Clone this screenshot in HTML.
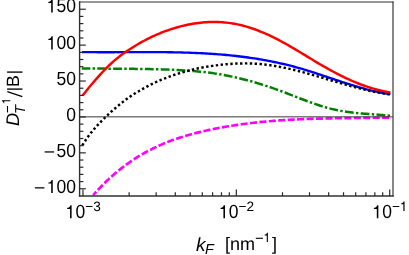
<!DOCTYPE html>
<html><head><meta charset="utf-8"><style>
html,body{margin:0;padding:0;background:#fff;}
svg{display:block;font-family:"Liberation Sans",sans-serif;text-rendering:geometricPrecision;will-change:transform;}
</style></head><body>
<svg width="409" height="255" viewBox="0 0 409 255">
<rect width="409" height="255" fill="#fff"/>
<g fill="none" stroke-width="2.45" stroke-linejoin="round">
<path d="M81.8 68.50 L83.8 68.51 L85.8 68.53 L87.8 68.54 L89.8 68.55 L91.8 68.56 L93.8 68.57 L95.8 68.58 L97.8 68.59 L99.8 68.60 L101.8 68.61 L103.8 68.62 L105.8 68.63 L107.9 68.64 L109.9 68.65 L111.9 68.66 L113.9 68.67 L115.9 68.68 L117.9 68.69 L119.9 68.70 L121.9 68.71 L123.9 68.73 L125.9 68.75 L127.9 68.77 L129.9 68.80 L131.9 68.83 L133.9 68.86 L135.9 68.89 L137.9 68.92 L139.9 68.95 L141.9 68.98 L143.9 69.00 L145.9 69.03 L147.9 69.06 L149.9 69.10 L151.9 69.14 L153.9 69.18 L155.9 69.23 L157.9 69.29 L160.0 69.35 L162.0 69.41 L164.0 69.48 L166.0 69.55 L168.0 69.62 L170.0 69.70 L172.0 69.78 L174.0 69.86 L176.0 69.95 L178.0 70.05 L180.0 70.15 L182.0 70.26 L184.0 70.38 L186.0 70.51 L188.0 70.65 L190.0 70.79 L192.0 70.94 L194.0 71.11 L196.0 71.28 L198.0 71.46 L200.0 71.65 L202.0 71.86 L204.0 72.08 L206.0 72.31 L208.0 72.56 L210.0 72.82 L212.1 73.09 L214.1 73.38 L216.1 73.68 L218.1 73.99 L220.1 74.32 L222.1 74.67 L224.1 75.03 L226.1 75.40 L228.1 75.79 L230.1 76.20 L232.1 76.62 L234.1 77.05 L236.1 77.50 L238.1 77.96 L240.1 78.44 L242.1 78.93 L244.1 79.43 L246.1 79.95 L248.1 80.48 L250.1 81.03 L252.1 81.58 L254.1 82.16 L256.1 82.74 L258.1 83.34 L260.1 83.96 L262.2 84.58 L264.2 85.22 L266.2 85.87 L268.2 86.53 L270.2 87.21 L272.2 87.89 L274.2 88.59 L276.2 89.31 L278.2 90.03 L280.2 90.77 L282.2 91.52 L284.2 92.27 L286.2 93.04 L288.2 93.81 L290.2 94.59 L292.2 95.37 L294.2 96.15 L296.2 96.93 L298.2 97.71 L300.2 98.49 L302.2 99.26 L304.2 100.02 L306.2 100.78 L308.2 101.52 L310.2 102.26 L312.2 102.98 L314.3 103.68 L316.3 104.37 L318.3 105.04 L320.3 105.69 L322.3 106.32 L324.3 106.93 L326.3 107.51 L328.3 108.07 L330.3 108.59 L332.3 109.09 L334.3 109.55 L336.3 109.98 L338.3 110.39 L340.3 110.77 L342.3 111.12 L344.3 111.44 L346.3 111.75 L348.3 112.03 L350.3 112.29 L352.3 112.54 L354.3 112.76 L356.3 112.98 L358.3 113.17 L360.3 113.36 L362.3 113.54 L364.3 113.70 L366.4 113.86 L368.4 114.02 L370.4 114.17 L372.4 114.31 L374.4 114.46 L376.4 114.61 L378.4 114.76 L380.4 114.91 L382.4 115.07 L384.4 115.23 L386.4 115.40 L388.4 115.57 L390.4 115.76" stroke="#008000" stroke-width="2.5" stroke-dasharray="8.85 2.3 2.4 2.3" stroke-dashoffset="0.35"/>
<path d="M93.2 195.21 L95.2 192.94 L97.2 190.73 L99.2 188.58 L101.2 186.48 L103.2 184.44 L105.2 182.45 L107.2 180.52 L109.2 178.64 L111.2 176.80 L113.3 175.02 L115.3 173.29 L117.3 171.61 L119.3 169.97 L121.3 168.38 L123.3 166.84 L125.3 165.34 L127.3 163.88 L129.3 162.46 L131.3 161.08 L133.3 159.74 L135.3 158.44 L137.3 157.18 L139.3 155.95 L141.3 154.76 L143.3 153.61 L145.3 152.48 L147.3 151.39 L149.4 150.34 L151.4 149.31 L153.4 148.31 L155.4 147.35 L157.4 146.41 L159.4 145.50 L161.4 144.61 L163.4 143.76 L165.4 142.92 L167.4 142.12 L169.4 141.34 L171.4 140.58 L173.4 139.85 L175.4 139.14 L177.4 138.45 L179.4 137.78 L181.4 137.14 L183.4 136.51 L185.4 135.91 L187.5 135.32 L189.5 134.75 L191.5 134.20 L193.5 133.66 L195.5 133.14 L197.5 132.63 L199.5 132.13 L201.5 131.65 L203.5 131.19 L205.5 130.73 L207.5 130.29 L209.5 129.85 L211.5 129.43 L213.5 129.02 L215.5 128.62 L217.5 128.23 L219.5 127.85 L221.5 127.48 L223.6 127.11 L225.6 126.76 L227.6 126.42 L229.6 126.09 L231.6 125.77 L233.6 125.45 L235.6 125.15 L237.6 124.85 L239.6 124.57 L241.6 124.29 L243.6 124.02 L245.6 123.76 L247.6 123.50 L249.6 123.26 L251.6 123.02 L253.6 122.79 L255.6 122.57 L257.6 122.35 L259.6 122.15 L261.7 121.94 L263.7 121.75 L265.7 121.56 L267.7 121.38 L269.7 121.21 L271.7 121.04 L273.7 120.88 L275.7 120.73 L277.7 120.58 L279.7 120.44 L281.7 120.30 L283.7 120.17 L285.7 120.04 L287.7 119.92 L289.7 119.81 L291.7 119.69 L293.7 119.59 L295.7 119.49 L297.8 119.39 L299.8 119.30 L301.8 119.21 L303.8 119.13 L305.8 119.05 L307.8 118.98 L309.8 118.91 L311.8 118.84 L313.8 118.78 L315.8 118.72 L317.8 118.66 L319.8 118.60 L321.8 118.56 L323.8 118.51 L325.8 118.47 L327.8 118.42 L329.8 118.38 L331.8 118.34 L333.8 118.31 L335.9 118.27 L337.9 118.23 L339.9 118.20 L341.9 118.17 L343.9 118.14 L345.9 118.12 L347.9 118.09 L349.9 118.07 L351.9 118.05 L353.9 118.03 L355.9 118.00 L357.9 117.98 L359.9 117.96 L361.9 117.94 L363.9 117.92 L365.9 117.90 L367.9 117.87 L369.9 117.85 L372.0 117.83 L374.0 117.80 L376.0 117.78 L378.0 117.76 L380.0 117.73 L382.0 117.70 L384.0 117.68 L386.0 117.65 L388.0 117.61 L390.0 117.58" stroke="#ff00ff" stroke-width="2.65" stroke-dasharray="7.1 2.35" stroke-dashoffset="2.45"/>
<path d="M82.0 52.07 L84.0 52.10 L86.0 52.12 L88.0 52.14 L90.0 52.16 L92.0 52.17 L94.0 52.19 L96.0 52.20 L98.0 52.20 L100.0 52.21 L102.0 52.22 L104.0 52.22 L106.0 52.22 L108.0 52.22 L110.0 52.22 L112.0 52.22 L114.0 52.21 L116.0 52.20 L118.0 52.20 L120.0 52.19 L122.1 52.18 L124.1 52.17 L126.1 52.17 L128.1 52.16 L130.1 52.15 L132.1 52.14 L134.1 52.13 L136.1 52.12 L138.1 52.12 L140.1 52.11 L142.1 52.11 L144.1 52.10 L146.1 52.10 L148.1 52.11 L150.1 52.11 L152.1 52.11 L154.1 52.12 L156.1 52.13 L158.1 52.14 L160.1 52.15 L162.1 52.17 L164.1 52.18 L166.1 52.20 L168.1 52.23 L170.1 52.25 L172.1 52.28 L174.1 52.32 L176.1 52.35 L178.1 52.40 L180.1 52.44 L182.1 52.49 L184.1 52.55 L186.1 52.61 L188.1 52.68 L190.1 52.75 L192.1 52.82 L194.1 52.90 L196.1 52.98 L198.2 53.07 L200.2 53.17 L202.2 53.27 L204.2 53.37 L206.2 53.49 L208.2 53.61 L210.2 53.73 L212.2 53.86 L214.2 54.00 L216.2 54.14 L218.2 54.30 L220.2 54.45 L222.2 54.62 L224.2 54.79 L226.2 54.97 L228.2 55.16 L230.2 55.36 L232.2 55.56 L234.2 55.78 L236.2 56.00 L238.2 56.23 L240.2 56.46 L242.2 56.71 L244.2 56.97 L246.2 57.23 L248.2 57.51 L250.2 57.79 L252.2 58.08 L254.2 58.39 L256.2 58.70 L258.2 59.03 L260.2 59.36 L262.2 59.70 L264.2 60.06 L266.2 60.42 L268.2 60.80 L270.2 61.19 L272.2 61.59 L274.2 61.99 L276.3 62.41 L278.3 62.84 L280.3 63.29 L282.3 63.74 L284.3 64.21 L286.3 64.69 L288.3 65.18 L290.3 65.69 L292.3 66.21 L294.3 66.74 L296.3 67.28 L298.3 67.84 L300.3 68.41 L302.3 68.99 L304.3 69.59 L306.3 70.19 L308.3 70.81 L310.3 71.43 L312.3 72.07 L314.3 72.71 L316.3 73.36 L318.3 74.02 L320.3 74.68 L322.3 75.35 L324.3 76.02 L326.3 76.68 L328.3 77.36 L330.3 78.03 L332.3 78.70 L334.3 79.37 L336.3 80.04 L338.3 80.71 L340.3 81.37 L342.3 82.03 L344.3 82.68 L346.3 83.33 L348.3 83.97 L350.3 84.60 L352.4 85.22 L354.4 85.83 L356.4 86.43 L358.4 87.02 L360.4 87.60 L362.4 88.17 L364.4 88.72 L366.4 89.26 L368.4 89.78 L370.4 90.28 L372.4 90.77 L374.4 91.23 L376.4 91.68 L378.4 92.10 L380.4 92.51 L382.4 92.89 L384.4 93.25 L386.4 93.59 L388.4 93.90 L390.4 94.19" stroke="#0000ff" stroke-width="2.35"/>
<path d="M82.3 145.33 L84.3 142.15 L86.3 139.16 L88.3 136.35 L90.3 133.71 L92.3 131.21 L94.3 128.84 L96.3 126.58 L98.3 124.41 L100.3 122.31 L102.3 120.27 L104.3 118.28 L106.3 116.33 L108.3 114.44 L110.3 112.59 L112.3 110.78 L114.3 109.02 L116.3 107.30 L118.3 105.62 L120.3 103.99 L122.3 102.40 L124.3 100.85 L126.3 99.34 L128.3 97.87 L130.3 96.46 L132.3 95.12 L134.3 93.84 L136.3 92.62 L138.3 91.43 L140.3 90.27 L142.3 89.13 L144.3 88.01 L146.3 86.92 L148.3 85.86 L150.3 84.84 L152.3 83.85 L154.3 82.89 L156.3 81.97 L158.3 81.08 L160.3 80.21 L162.3 79.37 L164.3 78.56 L166.3 77.78 L168.3 77.02 L170.3 76.28 L172.3 75.56 L174.3 74.87 L176.3 74.21 L178.3 73.56 L180.3 72.95 L182.3 72.36 L184.3 71.80 L186.3 71.26 L188.3 70.73 L190.3 70.21 L192.3 69.71 L194.3 69.22 L196.3 68.75 L198.3 68.31 L200.3 67.89 L202.3 67.51 L204.3 67.15 L206.3 66.81 L208.3 66.49 L210.3 66.19 L212.3 65.90 L214.3 65.61 L216.3 65.34 L218.3 65.09 L220.3 64.85 L222.3 64.63 L224.3 64.42 L226.3 64.24 L228.3 64.07 L230.3 63.91 L232.3 63.78 L234.3 63.67 L236.3 63.57 L238.4 63.50 L240.4 63.44 L242.4 63.41 L244.4 63.39 L246.4 63.40 L248.4 63.43 L250.4 63.48 L252.4 63.55 L254.4 63.65 L256.4 63.76 L258.4 63.91 L260.4 64.07 L262.4 64.26 L264.4 64.48 L266.4 64.72 L268.4 64.98 L270.4 65.26 L272.4 65.57 L274.4 65.89 L276.4 66.23 L278.4 66.59 L280.4 66.97 L282.4 67.37 L284.4 67.78 L286.4 68.21 L288.4 68.65 L290.4 69.10 L292.4 69.57 L294.4 70.06 L296.4 70.55 L298.4 71.06 L300.4 71.58 L302.4 72.11 L304.4 72.64 L306.4 73.19 L308.4 73.74 L310.4 74.31 L312.4 74.87 L314.4 75.45 L316.4 76.02 L318.4 76.60 L320.4 77.19 L322.4 77.78 L324.4 78.37 L326.4 78.96 L328.4 79.56 L330.4 80.15 L332.4 80.75 L334.4 81.34 L336.4 81.93 L338.4 82.52 L340.4 83.10 L342.4 83.68 L344.4 84.26 L346.4 84.83 L348.4 85.39 L350.4 85.95 L352.4 86.50 L354.4 87.04 L356.4 87.57 L358.4 88.09 L360.4 88.60 L362.4 89.10 L364.4 89.58 L366.4 90.06 L368.4 90.52 L370.4 90.97 L372.4 91.40 L374.4 91.81 L376.4 92.21 L378.4 92.60 L380.4 92.96 L382.4 93.31 L384.4 93.63 L386.4 93.94 L388.4 94.23 L390.4 94.49" stroke="#000" stroke-dasharray="2.4 2.47"/>
<path d="M82.6 95.51 L84.6 92.92 L86.6 90.40 L88.6 87.94 L90.6 85.55 L92.6 83.21 L94.6 80.92 L96.6 78.63 L98.6 76.37 L100.6 74.15 L102.6 71.98 L104.6 69.88 L106.6 67.85 L108.6 65.90 L110.6 64.01 L112.6 62.18 L114.6 60.41 L116.6 58.72 L118.6 57.10 L120.6 55.56 L122.6 54.10 L124.6 52.69 L126.6 51.34 L128.6 50.02 L130.6 48.74 L132.6 47.47 L134.6 46.23 L136.6 45.01 L138.6 43.82 L140.6 42.67 L142.6 41.54 L144.6 40.46 L146.6 39.40 L148.6 38.38 L150.6 37.40 L152.6 36.45 L154.6 35.54 L156.6 34.67 L158.6 33.82 L160.5 33.01 L162.5 32.22 L164.5 31.47 L166.5 30.74 L168.5 30.04 L170.5 29.37 L172.5 28.72 L174.5 28.11 L176.5 27.52 L178.5 26.95 L180.5 26.42 L182.5 25.91 L184.5 25.44 L186.5 24.99 L188.5 24.57 L190.5 24.18 L192.5 23.82 L194.5 23.49 L196.5 23.19 L198.5 22.93 L200.5 22.69 L202.5 22.49 L204.5 22.32 L206.5 22.18 L208.5 22.07 L210.5 21.99 L212.5 21.95 L214.5 21.95 L216.5 21.97 L218.5 22.03 L220.5 22.13 L222.5 22.26 L224.5 22.42 L226.5 22.62 L228.5 22.86 L230.5 23.13 L232.5 23.44 L234.5 23.78 L236.5 24.16 L238.5 24.58 L240.5 25.04 L242.5 25.53 L244.5 26.06 L246.5 26.62 L248.5 27.22 L250.5 27.86 L252.5 28.53 L254.5 29.23 L256.5 29.97 L258.5 30.73 L260.5 31.53 L262.5 32.35 L264.5 33.20 L266.5 34.08 L268.5 34.99 L270.5 35.93 L272.5 36.89 L274.5 37.88 L276.5 38.89 L278.5 39.93 L280.5 40.99 L282.5 42.07 L284.5 43.17 L286.5 44.29 L288.5 45.43 L290.5 46.58 L292.5 47.74 L294.5 48.92 L296.5 50.11 L298.5 51.30 L300.5 52.51 L302.5 53.71 L304.5 54.92 L306.5 56.13 L308.5 57.35 L310.5 58.55 L312.5 59.76 L314.4 60.95 L316.4 62.14 L318.4 63.32 L320.4 64.49 L322.4 65.64 L324.4 66.79 L326.4 67.92 L328.4 69.03 L330.4 70.13 L332.4 71.21 L334.4 72.28 L336.4 73.33 L338.4 74.36 L340.4 75.38 L342.4 76.37 L344.4 77.34 L346.4 78.29 L348.4 79.22 L350.4 80.12 L352.4 81.00 L354.4 81.86 L356.4 82.69 L358.4 83.49 L360.4 84.27 L362.4 85.02 L364.4 85.74 L366.4 86.44 L368.4 87.10 L370.4 87.74 L372.4 88.34 L374.4 88.92 L376.4 89.47 L378.4 89.98 L380.4 90.47 L382.4 90.92 L384.4 91.34 L386.4 91.73 L388.4 92.09 L390.4 92.42" stroke="#ff0000"/>
<line x1="79.6" y1="116.85" x2="393.0" y2="116.85" stroke="#383838" stroke-width="1.0"/>
</g>
<g stroke="#2a2a2a" stroke-width="1.2" fill="none">
<g stroke="#303030" stroke-linecap="square"><line x1="79.6" y1="2.0" x2="79.6" y2="195.95" stroke-width="1.4"/><line x1="79.6" y1="195.95" x2="393.0" y2="195.95" stroke-width="1.45"/><line x1="393.0" y1="2.0" x2="393.0" y2="195.95" stroke-width="1.15"/><line x1="79.6" y1="2.0" x2="393.0" y2="2.0" stroke-width="1.15"/></g>
<line x1="79.6" y1="188.75" x2="85.8" y2="188.75"/><line x1="79.6" y1="181.57" x2="83.39999999999999" y2="181.57"/><line x1="79.6" y1="174.39" x2="83.39999999999999" y2="174.39"/><line x1="79.6" y1="167.21" x2="83.39999999999999" y2="167.21"/><line x1="79.6" y1="160.03" x2="83.39999999999999" y2="160.03"/><line x1="79.6" y1="152.85" x2="85.8" y2="152.85"/><line x1="79.6" y1="145.67" x2="83.39999999999999" y2="145.67"/><line x1="79.6" y1="138.49" x2="83.39999999999999" y2="138.49"/><line x1="79.6" y1="131.31" x2="83.39999999999999" y2="131.31"/><line x1="79.6" y1="124.13" x2="83.39999999999999" y2="124.13"/><line x1="79.6" y1="116.95" x2="85.8" y2="116.95"/><line x1="79.6" y1="109.77" x2="83.39999999999999" y2="109.77"/><line x1="79.6" y1="102.59" x2="83.39999999999999" y2="102.59"/><line x1="79.6" y1="95.41" x2="83.39999999999999" y2="95.41"/><line x1="79.6" y1="88.23" x2="83.39999999999999" y2="88.23"/><line x1="79.6" y1="81.05" x2="85.8" y2="81.05"/><line x1="79.6" y1="73.87" x2="83.39999999999999" y2="73.87"/><line x1="79.6" y1="66.69" x2="83.39999999999999" y2="66.69"/><line x1="79.6" y1="59.51" x2="83.39999999999999" y2="59.51"/><line x1="79.6" y1="52.33" x2="83.39999999999999" y2="52.33"/><line x1="79.6" y1="45.15" x2="85.8" y2="45.15"/><line x1="79.6" y1="37.97" x2="83.39999999999999" y2="37.97"/><line x1="79.6" y1="30.79" x2="83.39999999999999" y2="30.79"/><line x1="79.6" y1="23.61" x2="83.39999999999999" y2="23.61"/><line x1="79.6" y1="16.43" x2="83.39999999999999" y2="16.43"/><line x1="79.6" y1="9.25" x2="85.8" y2="9.25"/><line x1="82.96" y1="195.95" x2="82.96" y2="189.45"/><line x1="129.13" y1="195.95" x2="129.13" y2="192.25"/><line x1="156.14" y1="195.95" x2="156.14" y2="192.25"/><line x1="175.30" y1="195.95" x2="175.30" y2="192.25"/><line x1="190.16" y1="195.95" x2="190.16" y2="192.25"/><line x1="202.31" y1="195.95" x2="202.31" y2="192.25"/><line x1="212.57" y1="195.95" x2="212.57" y2="192.25"/><line x1="221.47" y1="195.95" x2="221.47" y2="192.25"/><line x1="229.31" y1="195.95" x2="229.31" y2="192.25"/><line x1="236.33" y1="195.95" x2="236.33" y2="189.45"/><line x1="282.50" y1="195.95" x2="282.50" y2="192.25"/><line x1="309.51" y1="195.95" x2="309.51" y2="192.25"/><line x1="328.67" y1="195.95" x2="328.67" y2="192.25"/><line x1="343.53" y1="195.95" x2="343.53" y2="192.25"/><line x1="355.68" y1="195.95" x2="355.68" y2="192.25"/><line x1="365.94" y1="195.95" x2="365.94" y2="192.25"/><line x1="374.84" y1="195.95" x2="374.84" y2="192.25"/><line x1="382.68" y1="195.95" x2="382.68" y2="192.25"/><line x1="389.70" y1="195.95" x2="389.70" y2="189.45"/>
</g>
<g font-size="17.5" fill="#000">
<path d="M515 0V1010H180V1130C330 1135 500 1200 560 1409H696V0Z" transform="translate(46.80,193.00) scale(0.00854,-0.00931)" fill="#000"/><text transform="translate(56.53,193.00) scale(1,1.09)" font-size="17.5">00</text><line x1="34.90" y1="187.85" x2="44.40" y2="187.85" stroke="#000" stroke-width="1.25"/><text transform="translate(56.53,157.10) scale(1,1.09)" font-size="17.5">50</text><line x1="44.63" y1="151.95" x2="54.13" y2="151.95" stroke="#000" stroke-width="1.25"/><text transform="translate(66.27,121.20) scale(1,1.09)" font-size="17.5">0</text><text transform="translate(56.53,85.30) scale(1,1.09)" font-size="17.5">50</text><path d="M515 0V1010H180V1130C330 1135 500 1200 560 1409H696V0Z" transform="translate(46.80,49.40) scale(0.00854,-0.00931)" fill="#000"/><text transform="translate(56.53,49.40) scale(1,1.09)" font-size="17.5">00</text><path d="M515 0V1010H180V1130C330 1135 500 1200 560 1409H696V0Z" transform="translate(46.80,12.40) scale(0.00854,-0.00931)" fill="#000"/><text transform="translate(56.53,12.40) scale(1,1.09)" font-size="17.5">50</text>
<path d="M515 0V1010H180V1130C330 1135 500 1200 560 1409H696V0Z" transform="translate(65.66,218.30) scale(0.00854,-0.00931)" fill="#000"/><text transform="translate(75.39,218.30) scale(1,1.09)" font-size="17.5">0</text><text x="85.3" y="210.9" font-size="13.6">−</text><text transform="translate(93.20,210.90) scale(1,1.0)" font-size="13.6">3</text><path d="M515 0V1010H180V1130C330 1135 500 1200 560 1409H696V0Z" transform="translate(219.03,218.30) scale(0.00854,-0.00931)" fill="#000"/><text transform="translate(228.76,218.30) scale(1,1.09)" font-size="17.5">0</text><text x="238.6" y="210.9" font-size="13.6">−</text><text transform="translate(246.57,210.90) scale(1,1.0)" font-size="13.6">2</text><path d="M515 0V1010H180V1130C330 1135 500 1200 560 1409H696V0Z" transform="translate(372.40,218.30) scale(0.00854,-0.00931)" fill="#000"/><text transform="translate(382.13,218.30) scale(1,1.09)" font-size="17.5">0</text><text x="392.0" y="210.9" font-size="13.6">−</text><path d="M515 0V1010H180V1130C330 1135 500 1200 560 1409H696V0Z" transform="translate(399.94,210.90) scale(0.00664,-0.00664)" fill="#000"/>
<text x="196.0" y="250.5" font-style="italic" font-size="19">k</text>
<text x="204.9" y="253.8" font-style="italic" font-size="14.4">F</text>
<text x="224.9" y="250.3" font-size="18">[nm</text>
<line x1="255.8" y1="238.3" x2="262.9" y2="238.3" stroke="#000" stroke-width="1.1"/><path d="M515 0V1010H180V1130C330 1135 500 1200 560 1409H696V0Z" transform="translate(263.60,241.90) scale(0.00615,-0.00646)" fill="#000"/>
<text x="271.9" y="250.3" font-size="18">]</text>
<g transform="translate(19.3,126.0) rotate(-90)">
<text x="0.0" y="0" font-style="italic" font-size="18.3">D</text>
<text x="11.9" y="5.5" font-style="italic" font-size="14.4">T</text>
<line x1="13.5" y1="-11.8" x2="20.0" y2="-11.8" stroke="#000" stroke-width="1.1"/>
<path d="M515 0V1010H180V1130C330 1135 500 1200 560 1409H696V0Z" transform="translate(21.60,-9.00) scale(0.00596,-0.00596)" fill="#000"/>
<line x1="29.3" y1="3.0" x2="34.4" y2="-12.0" stroke="#000" stroke-width="1.25"/>
<line x1="36.9" y1="3.2" x2="36.9" y2="-12.2" stroke="#000" stroke-width="1.35"/>
<text x="39.1" y="0" font-size="17.8">B</text>
<line x1="53.9" y1="3.2" x2="53.9" y2="-12.2" stroke="#000" stroke-width="1.35"/>
</g>
</g>
</svg>
</body></html>
